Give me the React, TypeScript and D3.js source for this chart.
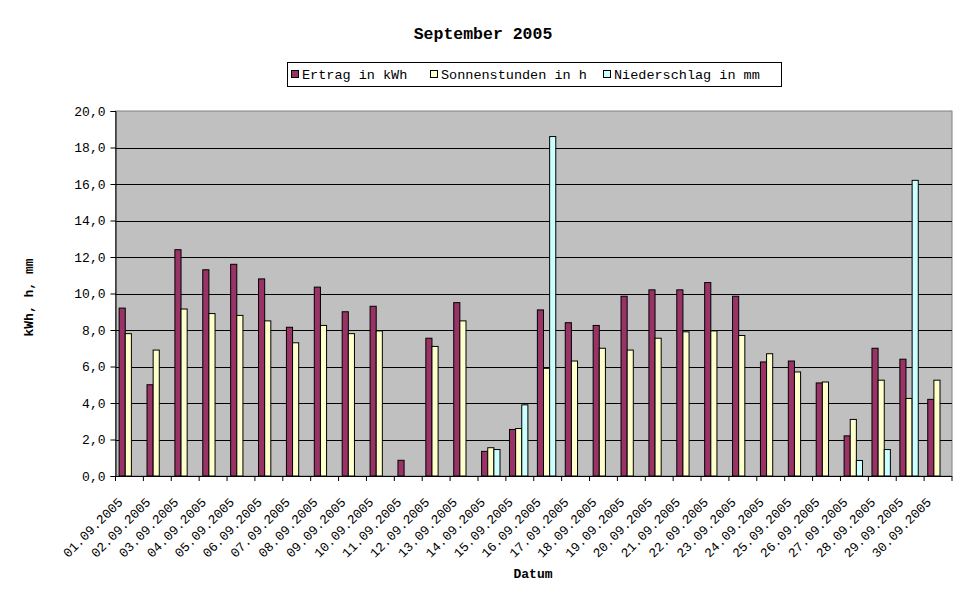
import React, { useEffect, useRef } from 'react';
import * as d3 from 'd3';

// Tage im September 2005
const days: string[] = Array.from({ length: 30 }, (_, i) => `${String(i + 1).padStart(2, '0')}.09.2005`);

const ertrag: number[] = [9.2, 5.0, 12.4, 11.3, 11.6, 10.8, 8.15, 10.35, 9.0, 9.3, 0.86, 7.55, 9.5, 1.35, 2.55,
  9.1, 8.4, 8.25, 9.85, 10.2, 10.2, 10.6, 9.85, 6.25, 6.3, 5.1, 2.2, 7.0, 6.4, 4.2];
const sonnenstunden: number[] = [7.8, 6.9, 9.15, 8.9, 8.8, 8.5, 7.3, 8.25, 7.8, 7.95, 0, 7.1, 8.5, 1.55, 2.6,
  5.9, 6.3, 7.0, 6.9, 7.55, 7.9, 7.95, 7.7, 6.7, 5.7, 5.15, 3.1, 5.25, 4.25, 5.25];
const niederschlag: number[] = [0, 0, 0, 0, 0, 0, 0, 0, 0, 0, 0, 0, 0, 1.45, 3.9,
  18.6, 0, 0, 0, 0, 0, 0, 0, 0, 0, 0, 0.85, 1.45, 16.2, 0];

const seriesNames: string[] = ['Ertrag in kWh', 'Sonnenstunden in h', 'Niederschlag in mm'];
const seriesColors: string[] = ['#993366', '#FFFFCC', '#CCFFFF'];
const yTicks: number[] = [0, 2, 4, 6, 8, 10, 12, 14, 16, 18, 20];

const FONT = "'Liberation Mono', 'DejaVu Sans Mono', monospace";

const App: React.FC = () => {
  const svgRef = useRef<SVGSVGElement>(null);

  useEffect(() => {
    if (!svgRef.current) return;
    const W = 966, H = 603;
    const left = 115.5, right = 952, top = 111, bottom = 476;

    d3.select(svgRef.current).selectAll('*').remove();
    const svg = d3.select(svgRef.current).attr('width', W).attr('height', H);

    const values = [ertrag, sonnenstunden, niederschlag];
    const data = days.map((d, i) => ({ day: d, vals: values.map(v => v[i]) }));

    const x0 = d3.scaleBand<string>().domain(days).range([left, right]).padding(0);
    const band = x0.bandwidth();
    const x1 = d3.scaleBand<number>().domain([0, 1, 2]).range([band * 0.13, band * 0.79]).padding(0);
    const y = d3.scaleLinear().domain([0, 20]).range([bottom, top]);

    // Plot area
    svg.append('rect')
      .attr('x', left).attr('y', top)
      .attr('width', right - left).attr('height', bottom - top)
      .attr('fill', '#C0C0C0')
      .attr('stroke', '#808080').attr('stroke-width', 1);

    // Gridlines
    svg.append('g')
      .selectAll('line')
      .data(yTicks.filter(t => t > 0 && t < 20))
      .enter()
      .append('line')
      .attr('x1', left).attr('x2', right)
      .attr('y1', d => Math.round(y(d)) + 0.5).attr('y2', d => Math.round(y(d)) + 0.5)
      .attr('stroke', '#000').attr('stroke-width', 1);

    // Bars
    const groups = svg.append('g')
      .selectAll('g')
      .data(data)
      .enter()
      .append('g')
      .attr('transform', d => `translate(${x0(d.day)},0)`);

    groups.selectAll('rect')
      .data(d => d.vals.map((v, k) => ({ v, k })).filter(e => e.v > 0))
      .enter()
      .append('rect')
      .attr('x', e => x1(e.k) || 0)
      .attr('y', e => y(e.v))
      .attr('width', x1.bandwidth())
      .attr('height', e => bottom - y(e.v))
      .attr('fill', e => seriesColors[e.k])
      .attr('stroke', '#000').attr('stroke-width', 1);

    // Y axis
    const yAxis = svg.append('g')
      .attr('transform', `translate(${left},0)`)
      .call(d3.axisLeft(y).tickValues(yTicks).tickSize(5).tickPadding(5)
        .tickFormat(d => d3.format('.1f')(d as number).replace('.', ',')));
    yAxis.select('.domain').attr('stroke', '#000');
    yAxis.selectAll('text')
      .attr('font-family', FONT).attr('font-size', 13).attr('fill', '#000');

    // X axis line + ticks
    svg.append('line')
      .attr('x1', left).attr('x2', right)
      .attr('y1', bottom + 0.5).attr('y2', bottom + 0.5)
      .attr('stroke', '#000');
    svg.append('g')
      .selectAll('line')
      .data([...days.map(d => x0(d) as number), right])
      .enter()
      .append('line')
      .attr('x1', d => d).attr('x2', d => d)
      .attr('y1', bottom).attr('y2', bottom + 5)
      .attr('stroke', '#000');

    // X labels, diagonal
    svg.append('g')
      .selectAll('text')
      .data(days)
      .enter()
      .append('text')
      .attr('transform', d => `translate(${(x0(d) as number) + band / 2 - 6},${bottom + 27}) rotate(-45)`)
      .attr('text-anchor', 'end')
      .attr('font-family', FONT).attr('font-size', 13)
      .text(d => d);

    // Titles
    svg.append('text')
      .attr('x', 483).attr('y', 39)
      .attr('text-anchor', 'middle')
      .attr('font-family', FONT).attr('font-size', 16.5).attr('font-weight', 'bold')
      .text('September 2005');

    svg.append('text')
      .attr('x', 533).attr('y', 578)
      .attr('text-anchor', 'middle')
      .attr('font-family', FONT).attr('font-size', 13).attr('font-weight', 'bold')
      .text('Datum');

    svg.append('text')
      .attr('transform', `translate(33,${(top + bottom) / 2 + 4}) rotate(-90)`)
      .attr('text-anchor', 'middle')
      .attr('font-family', FONT).attr('font-size', 13).attr('font-weight', 'bold')
      .text('kWh, h, mm');

    // Legend
    const legend = svg.append('g');
    legend.append('rect')
      .attr('x', 287.5).attr('y', 62.5).attr('width', 494).attr('height', 24)
      .attr('fill', '#fff').attr('stroke', '#000');
    const legendX = [291, 430, 603];
    seriesNames.forEach((name, k) => {
      legend.append('rect')
        .attr('x', legendX[k] + 0.5).attr('y', 70.5).attr('width', 7).attr('height', 7)
        .attr('fill', seriesColors[k]).attr('stroke', '#000');
      legend.append('text')
        .attr('x', legendX[k] + 11).attr('y', 79)
        .attr('font-family', FONT).attr('font-size', 13.5)
        .text(name);
    });
  }, []);

  return (
    <div style={{ position: 'absolute', left: 0, top: 0, width: 966, height: 603, background: '#fff' }}>
      <svg ref={svgRef}></svg>
    </div>
  );
};

export default App;
